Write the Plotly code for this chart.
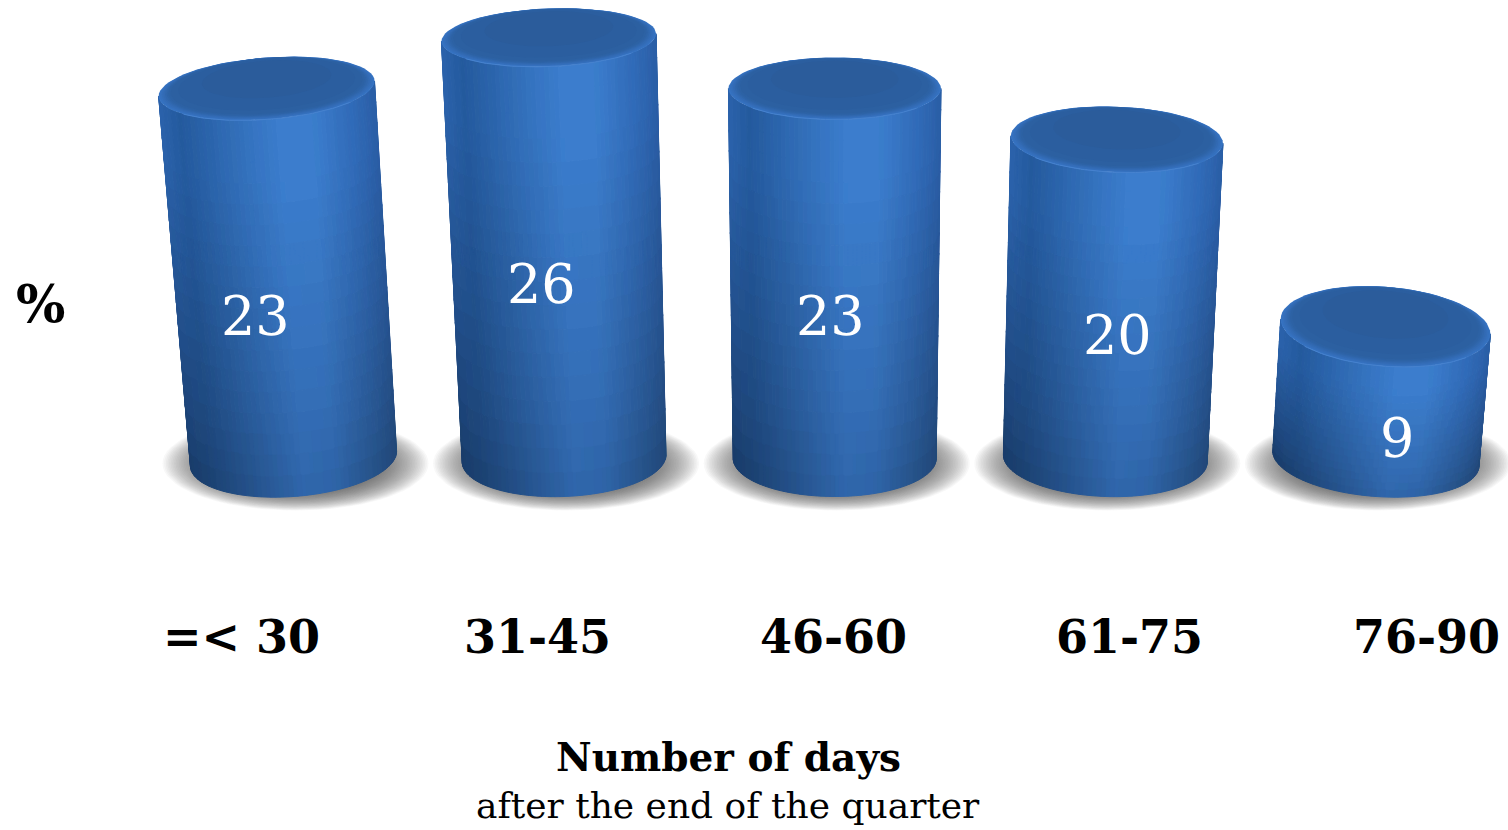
import math
from collections import defaultdict
import plotly.graph_objects as go

# Chart content
categories = ["=< 30", "31-45", "46-60", "61-75", "76-90"]
percent = [23, 26, 23, 20, 9]
axis_title = "Number of days"
axis_subtitle = "after the end of the quarter"
unit_label = "%"

# Scale of the two axes, in pixels per axis unit
WIDTH, HEIGHT = 1508, 830
PX_X = 270.6
PX_Y = 17.0
X_MIN = -293.5 / PX_X
Y_TOP = 479.5 / PX_Y
FLOOR = 21.0 / PX_Y

# Cylinder shape and the perspective applied to it
BASE_MINOR = 38.0
LEAN = 0.00215
TILT = 0.035
COLS, ROWS = 72, 18

# Where the value labels sit, in pixels from the top-left corner
VALUE_LABEL_PX = [(255, 316), (541, 284), (830, 316), (1117, 335), (1397, 438)]

# Side shading across the cylinder, top of the bar and foot of the bar
STOPS = [-1.0, -0.8, -0.4, 0.1, 0.4, 0.8, 1.0]
UPPER = ["#2b62ab", "#245a9e", "#2f6ab3", "#3b7dcd", "#3c7ece", "#306ab7", "#2a5ea6"]
LOWER = ["#183a66", "#1b4070", "#245088", "#2f65a9", "#2e63a6", "#255085", "#214676"]


def rgb(code):
    return tuple(int(code[k:k + 2], 16) for k in (1, 3, 5))


def ramp(table, u):
    for j in range(len(STOPS) - 1):
        if u <= STOPS[j + 1]:
            f = (u - STOPS[j]) / (STOPS[j + 1] - STOPS[j])
            a, b = rgb(table[j]), rgb(table[j + 1])
            return tuple(a[k] + (b[k] - a[k]) * f for k in range(3))
    return rgb(table[-1])


def side_colour(u, v):
    w = min(1.0, v ** 0.8 * 1.15)
    a, b = ramp(LOWER, u), ramp(UPPER, u)
    return tuple(int(round((a[k] + (b[k] - a[k]) * w) / 2.5) * 2.5) for k in range(3))


def radius(i):
    return (101.5 + 0.4 * (i - 2) ** 2) / PX_X


def minor_axis(level):
    return BASE_MINOR if level == FLOOR else 45.5 - 0.63 * level


def ring(i, level, theta, scale=1.0, rise=0.0):
    """Point of the rim of cylinder i at height `level`, for angle theta."""
    h = level - FLOOR
    cx = i + LEAN * (i - 2) * h * PX_Y / 16.0
    a = radius(i) * (1 + LEAN * h)
    minor = minor_axis(level)
    c = math.cos(theta)
    s = math.sin(theta)
    x = cx + scale * a * c
    drop = scale * (minor * s + TILT * (i - 2) * a * PX_X * c) - rise * (1 - scale) * minor
    return x, level - drop / PX_Y


def side_point(i, top, theta, v):
    x0, y0 = ring(i, FLOOR, theta)
    x1, y1 = ring(i, top, theta)
    return x0 + (x1 - x0) * v, y0 + (y1 - y0) * v


def ellipse(i, level, scale=1.0, rise=0.0, n=72):
    pts = [ring(i, level, 2 * math.pi * k / n, scale, rise) for k in range(n + 1)]
    return [p[0] for p in pts], [p[1] for p in pts]


fig = go.Figure()


def add_patch(xs, ys, fill, line=None, width=0.0):
    fig.add_trace(go.Scatter(
        x=xs, y=ys, mode="lines", fill="toself", fillcolor=fill,
        line=dict(color=line or "rgba(0,0,0,0)", width=width),
        hoverinfo="skip", showlegend=False,
    ))


# Soft floor shadow behind each cylinder
SHADOW_LAYERS = 30
for i in range(len(percent)):
    for k in range(SHADOW_LAYERS):
        scale = 1.0 - 0.36 * k / (SHADOW_LAYERS - 1)
        pts = [(i + (2 + scale * 133 * math.cos(t * math.pi / 36)) / PX_X,
                FLOOR - (5 + scale * 47 * math.sin(t * math.pi / 36)) / PX_Y)
               for t in range(73)]
        add_patch([p[0] for p in pts], [p[1] for p in pts], "rgba(80,80,80,0.04)")

# Cylinder sides as small cells, grouped by colour into one trace each
cells = defaultdict(lambda: ([], []))
for i, h in enumerate(percent):
    for c in range(COLS):
        t0 = math.pi * (1 - c / COLS)
        t1 = math.pi * (1 - (c + 1) / COLS)
        u = math.cos((t0 + t1) / 2)
        for r in range(ROWS):
            v0, v1 = r / ROWS, (r + 1) / ROWS
            colour = side_colour(u, (v0 + v1) / 2)
            corners = [side_point(i, h, t0, v0), side_point(i, h, t1, v0),
                       side_point(i, h, t1, v1), side_point(i, h, t0, v1),
                       side_point(i, h, t0, v0)]
            xs, ys = cells[colour]
            xs.extend([p[0] for p in corners] + [None])
            ys.extend([p[1] for p in corners] + [None])

for colour, (xs, ys) in cells.items():
    code = "rgb(%d,%d,%d)" % colour
    add_patch(xs, ys, code, code, 1.0)

# Bevelled top faces: a lighter rim rising to a darker, slightly raised centre
BEVEL = [(1.00, 0.0, "#3673c2"), (0.985, 0.75, "#3570bd"), (0.97, 0.75, "#346db8"),
         (0.955, 0.75, "#326ab3"), (0.94, 0.75, "#3067ad"), (0.925, 0.75, "#2e64a8"),
         (0.91, 0.75, "#2d62a4"), (0.89, 0.75, "#2c60a1"), (0.82, 0.75, "#2b5e9f"),
         (0.60, 0.75, "#2b5c9b")]
for i, h in enumerate(percent):
    for scale, rise, colour in BEVEL:
        xs, ys = ellipse(i, h, scale, rise)
        add_patch(xs, ys, colour)
    # thin highlight on the front of the rim
    pts = [ring(i, h, math.pi * (0.22 + 0.56 * k / 40)) for k in range(41)]
    fig.add_trace(go.Scatter(
        x=[p[0] for p in pts], y=[p[1] for p in pts], mode="lines",
        line=dict(color="#4682cf", width=1.0), hoverinfo="skip", showlegend=False,
    ))

SERIF = "DejaVu Serif"


def px_x(px):
    return (px - 293.5) / PX_X


def px_y(px):
    return (479.5 - px) / PX_Y


def label(x, y, text, size, colour="#000000", bold=False):
    fig.add_annotation(
        x=x, y=y, xref="x", yref="y", text="<b>%s</b>" % text if bold else text,
        showarrow=False, xanchor="center", yanchor="middle",
        font=dict(family=SERIF, size=size, color=colour),
    )


# Values inside the cylinders
for h, (lx, ly) in zip(percent, VALUE_LABEL_PX):
    label(px_x(lx), px_y(ly), str(h), 54, "#ffffff")

# Category labels sit on a slightly wider spacing than the cylinders
for i, name in enumerate(categories):
    label(px_x(241 + 296.25 * i), px_y(637), name, 46, bold=True)

label(px_x(40), px_y(303), unit_label, 52, bold=True)
label(px_x(728), px_y(757), axis_title, 39, bold=True)
label(px_x(728), px_y(805), axis_subtitle, 36)

fig.update_layout(
    width=WIDTH, height=HEIGHT, margin=dict(l=0, r=0, t=0, b=0),
    paper_bgcolor="#ffffff", plot_bgcolor="#ffffff", showlegend=False,
    xaxis=dict(range=[X_MIN, X_MIN + WIDTH / PX_X], visible=False, fixedrange=True),
    yaxis=dict(range=[Y_TOP - HEIGHT / PX_Y, Y_TOP], visible=False, fixedrange=True),
)
fig.write_html("out.html", config=dict(displayModeBar=False))
